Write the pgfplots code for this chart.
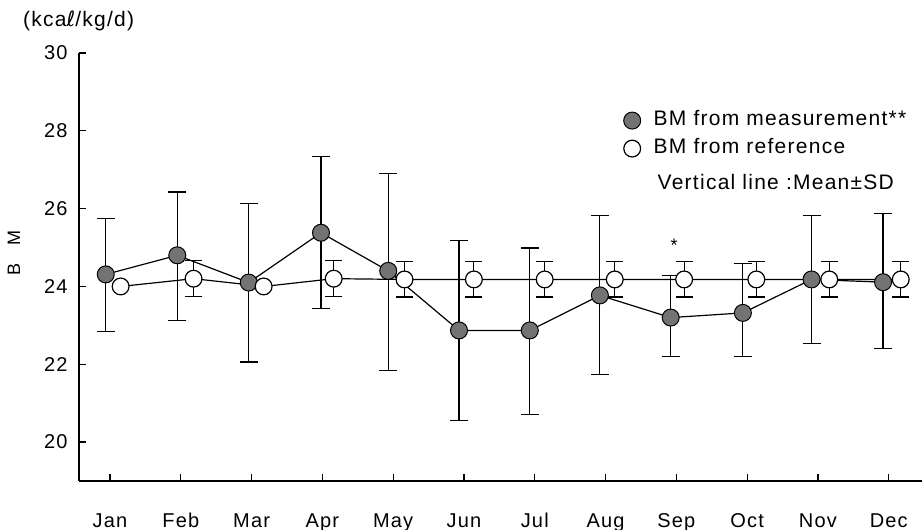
\documentclass[border=0pt]{standalone}
\usepackage{fontspec}
\setmainfont{Liberation Sans}[LetterSpace=6]
\newfontfamily\dv{DejaVu Sans}
\usepackage{pgfplots}
\pgfplotsset{compat=1.18}
\usepackage{pgfplotstable}

\pgfplotstableread{
x y ep em
0.94 24.31 1.43 1.46
1.95 24.80 1.63 1.68
2.96 24.10 2.04 2.04
3.98 25.38 1.95 1.95
4.93 24.40 2.50 2.56
5.93 22.87 2.32 2.31
6.93 22.87 2.12 2.17
7.92 23.77 2.06 2.03
8.92 23.20 1.09 1.01
9.94 23.32 1.26 1.13
10.91 24.18 1.65 1.64
11.92 24.11 1.76 1.71
}\meas

\pgfplotstableread{
x y
1.15 24.00
2.18 24.20
3.17 24.00
4.16 24.20
5.16 24.18
6.14 24.18
7.14 24.18
8.13 24.18
9.11 24.18
10.13 24.18
11.16 24.18
12.17 24.18
}\refl

\pgfplotstableread{
x y ep em
2.18 24.20 0.46 0.46
4.16 24.20 0.46 0.46
5.16 24.18 0.47 0.45
6.14 24.18 0.47 0.45
7.14 24.18 0.47 0.45
8.13 24.18 0.47 0.45
9.11 24.18 0.47 0.45
10.13 24.18 0.47 0.45
11.16 24.18 0.47 0.45
12.17 24.18 0.47 0.45
}\referr

\begin{document}
\begin{tikzpicture}
\useasboundingbox (-39.5pt,-24.5pt) rectangle (421.5pt,240.5pt);
\begin{axis}[
  at={(0,0)}, anchor=south west,
  width=421.5pt, height=214pt, scale only axis,
  xmin=0.562, xmax=12.47, ymin=19, ymax=30,
  axis x line*=bottom, axis y line*=left,
  axis line style={line width=0.7pt},
  clip=false,
  xtick={1,...,12},
  xticklabels={Jan,Feb,Mar,Apr,May,Jun,Jul,Aug,Sep,Oct,Nov,Dec},
  ytick={20,22,...,30},
  /pgf/number format/assume math mode=true,
  tick align=inside,
  major tick length=3.5pt,
  tick style={line width=0.6pt, black},
  xticklabel style={font=\fontsize{10}{12}\selectfont, text height=7.2pt, text depth=2pt, yshift=-12.3pt},
  yticklabel style={font=\fontsize{10}{12}\selectfont, xshift=-2.2pt},
  legend style={draw=none, fill=none, inner sep=0pt, row sep=2.2pt,
    at={(rel axis cs:0.6355,0.8706)}, anchor=north west,
    font=\fontsize{10.5}{12}\selectfont,
    nodes={inner sep=1pt, text height=7.6pt, text depth=2.2pt}},
  legend cell align=left,
]
% measurement
\addplot[black, line width=0.6pt, mark=*, mark size=4.25pt,
  mark options={fill=black!55, draw=black, line width=0.5pt},
  forget plot,
  error bars/.cd, y dir=both, y explicit,
  error bar style={line width=0.6pt, black},
  error mark options={rotate=90, mark size=4.5pt, line width=0.6pt, black}]
  table[x=x, y=y, y error plus=ep, y error minus=em]{\meas};
% reference error bars
\addplot[only marks, mark=none, forget plot,
  error bars/.cd, y dir=both, y explicit,
  error bar style={line width=0.6pt, black},
  error mark options={rotate=90, mark size=4.3pt, line width=0.6pt, black}]
  table[x=x, y=y, y error plus=ep, y error minus=em]{\referr};
% reference
\addplot[black, line width=0.6pt, mark=*, mark size=4.2pt,
  mark options={fill=white, draw=black, line width=0.6pt}, forget plot]
  table[x=x, y=y]{\refl};

\addlegendimage{only marks, mark=*, mark size=4.25pt, mark options={fill=black!55, draw=black, line width=0.5pt}}
\addlegendentry{\hspace{5.5pt}BM from measurement**}
\addlegendimage{only marks, mark=*, mark size=4.2pt, mark options={fill=white, draw=black, line width=0.6pt}}
\addlegendentry{\hspace{5.5pt}BM from reference}
\addlegendimage{empty legend}
\addlegendentry{\raisebox{-4pt}{\hspace{7.5pt}Vertical line :Mean±SD}}

\node[font=\fontsize{9}{9}\selectfont] at (axis cs:8.97,25.05) {*};
\node[font=\fontsize{10.5}{12}\selectfont] at (axis description cs:-0.0004,1.0757) {(kca{\dv ℓ}/kg/d)};
\node[rotate=90, font=\fontsize{9}{10}\selectfont] at (axis description cs:-0.0771,0.533) {B\hspace{9pt}M};
\end{axis}
\end{tikzpicture}
\end{document}
